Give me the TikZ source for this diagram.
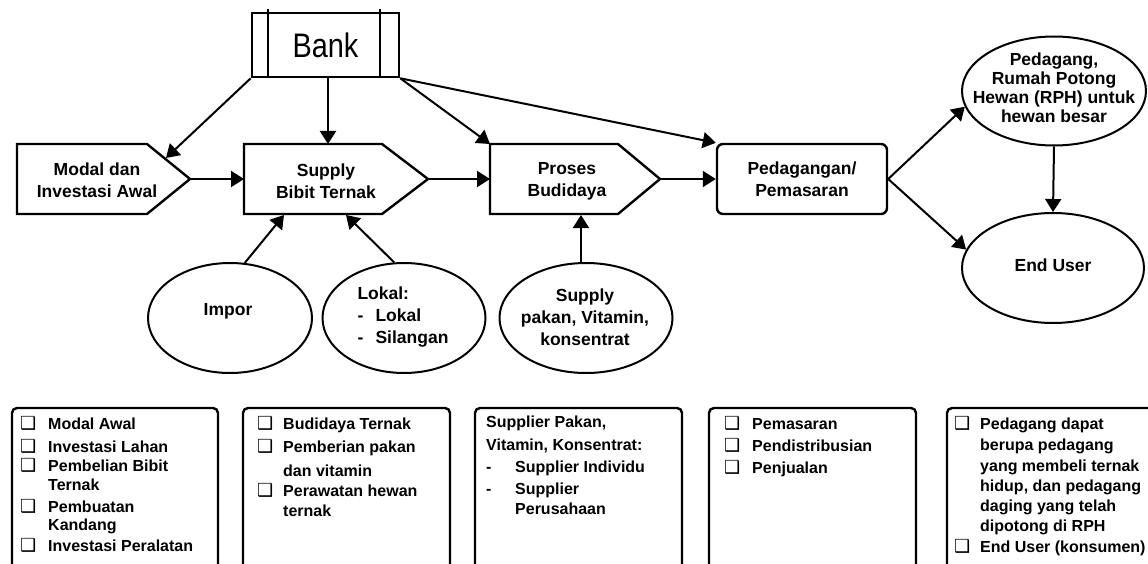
\documentclass[tikz,border=0pt]{standalone}
\usepackage{fontspec}
\usepackage{graphicx}
\setmainfont{Liberation Sans}
\newfontfamily\dejavu{DejaVu Sans}
\usetikzlibrary{arrows.meta,shapes.geometric}
\newcommand\cbx[1][26pt]{\makebox[#1][l]{{\dejavu\fontsize{18}{18}\selectfont ❑}}}
\newcommand\ind[1][26pt]{\hspace*{#1}}
\newcommand\dsh[1][29pt]{\makebox[#1][l]{-}}
\begin{document}
\begin{tikzpicture}[x=1pt,y=-1pt,
  shapeline/.style={line width=2.4pt, line join=miter},
  conn/.style={line width=2pt, -{Triangle[length=13pt,width=16pt]}},
  txt/.style={font=\fontsize{17.5}{22}\selectfont\bfseries, align=center, inner sep=0pt},
  oval/.style={draw, ellipse, line width=2pt, inner sep=0pt},
  listbox/.style={line width=2.4pt, rounded corners=5pt},
  listtxt/.style={font=\fontsize{16}{20}\selectfont\bfseries, align=left, anchor=north west, inner sep=0pt},
]
\useasboundingbox (0,0) rectangle (1148,564);

% Bank
\node[draw, line width=2.6pt, minimum width=147pt, minimum height=64pt, inner sep=0pt,
      font=\fontsize{34}{34}\selectfont] (bank) at (325.5,45) {\scalebox{0.85}[1]{Bank}};
\draw[line width=2.6pt] (268,9) -- (268,77);
\draw[line width=2.6pt] (380,9) -- (380,77);

% Modal dan Investasi Awal
\draw[shapeline] (17,144) -- (147,144) -- (190,179) -- (147,214) -- (17,214) -- cycle;
\coordinate (modaltip) at (190,179);
\coordinate (modalin) at (166,158);
\node[txt] (modal) at (97,180) {Modal dan\\Investasi Awal};

% Supply Bibit Ternak
\draw[shapeline] (244,144) -- (382,144) -- (428,179) -- (382,214) -- (244,214) -- cycle;
\coordinate (supplyW) at (244,179);
\coordinate (supplyN) at (328,144);
\coordinate (supplytip) at (428,179);
\coordinate (supplyS1) at (284,215);
\coordinate (supplyS2) at (346,215);
\node[txt] (supply) at (326,181) {Supply\\Bibit Ternak};

% Proses Budidaya
\draw[shapeline] (490,144) -- (618,144) -- (660,179) -- (618,214) -- (490,214) -- cycle;
\coordinate (prosesW) at (490,179);
\coordinate (prosesNW) at (490,144);
\coordinate (prosestip) at (660,179);
\coordinate (prosesS) at (581,215);
\node[txt] (proses) at (567,181) {Proses\\Budidaya};

% Pedagangan / Pemasaran
\node[draw, line width=2.4pt, rounded corners=6pt, minimum width=170pt, minimum height=70pt,
      txt] (pemasaran) at (802,179) {Pedagangan/\\Pemasaran};

% Ellipses
\node[oval, minimum width=184pt, minimum height=109pt] (pedagang) at (1054,91) {};
\node[txt, font=\fontsize{17.5}{19}\selectfont\bfseries] (pedagangt) at (1054,88)
  {Pedagang,\\Rumah Potong\\Hewan (RPH) untuk\\hewan besar};
\node[oval, minimum width=182pt, minimum height=110pt] (enduser) at (1053,268) {};
\node[txt] (endusert) at (1053,265) {End User};

\node[oval, minimum width=164pt, minimum height=110pt] (impor) at (230,318) {};
\node[txt] (import) at (228,311) {Impor};
\node[oval, minimum width=163pt, minimum height=110pt] (lokal) at (404,318) {};
\node[txt, align=left] (lokalt) at (403,317) {Lokal:\\\makebox[18pt][l]{-}Lokal\\\makebox[18pt][l]{-}Silangan};
\node[oval, minimum width=173pt, minimum height=110pt] (pakan) at (586,318) {};
\node[txt] (pakant) at (585,317) {Supply\\pakan, Vitamin,\\konsentrat};

% Connectors
\draw[conn] (bank.south west) -- (modalin);
\draw[conn] (bank.south -| supplyN) -- (supplyN);
\draw[conn] (bank.south east) -- (prosesNW);
\draw[conn] (bank.south east) -- (pemasaran.north west);
\draw[conn] (modaltip) -- (supplyW);
\draw[conn] (supplytip) -- (prosesW);
\draw[conn] (prosestip) -- (pemasaran.west);
\draw[conn] (pemasaran.east) -- (pedagang.190);
\draw[conn] (pemasaran.east) -- (enduser.168);
\draw[conn] (pedagang.south) -- (enduser.north);
\draw[conn] (impor.75) -- (supplyS1);
\draw[conn] (lokal.100) -- (supplyS2);
\draw[conn] (pakan.north -| prosesS) -- (prosesS);

% Bottom boxes
\draw[listbox] (12,575) -- (12,408) -- (218,408) -- (218,575);
\draw[listbox] (243,575) -- (243,408) -- (450,408) -- (450,575);
\draw[listbox] (475,575) -- (475,408) -- (682,408) -- (682,575);
\draw[listbox] (709,575) -- (709,408) -- (916,408) -- (916,575);
\draw[listbox] (947,575) -- (947,408) -- (1165,408) -- (1165,575);

\node[listtxt] (l1) at (20,416) {%
\cbx[28pt]Modal Awal\\[3pt]
\cbx[28pt]Investasi Lahan\\[-1pt]
\cbx[28pt]Pembelian Bibit\\[-1pt]
\ind[28pt]Ternak\\[2pt]
\cbx[28pt]Pembuatan\\[-2pt]
\ind[28pt]Kandang\\[1pt]
\cbx[28pt]Investasi Peralatan};

\node[listtxt] (l2) at (257,416) {%
\cbx Budidaya Ternak\\[3pt]
\cbx Pemberian pakan\\[4pt]
\ind dan vitamin\\
\cbx Perawatan hewan\\
\ind ternak};

\node[listtxt] (l3) at (486,416) {%
Supplier Pakan,\\[3pt]
Vitamin, Konsentrat:\\[2pt]
\dsh Supplier Individu\\[2pt]
\dsh Supplier\\
\ind[29pt]Perusahaan};

\node[listtxt] (l4) at (724,416) {%
\cbx[28pt]Pemasaran\\[2pt]
\cbx[28pt]Pendistribusian\\[2pt]
\cbx[28pt]Penjualan};

\node[listtxt] (l5) at (954,416) {%
\cbx Pedagang dapat\\[1pt]
\ind berupa pedagang\\[1pt]
\ind yang membeli ternak\\
\ind hidup, dan pedagang\\
\ind daging yang telah\\
\ind dipotong di RPH\\[1pt]
\cbx End User (konsumen)};
\end{tikzpicture}
\end{document}
